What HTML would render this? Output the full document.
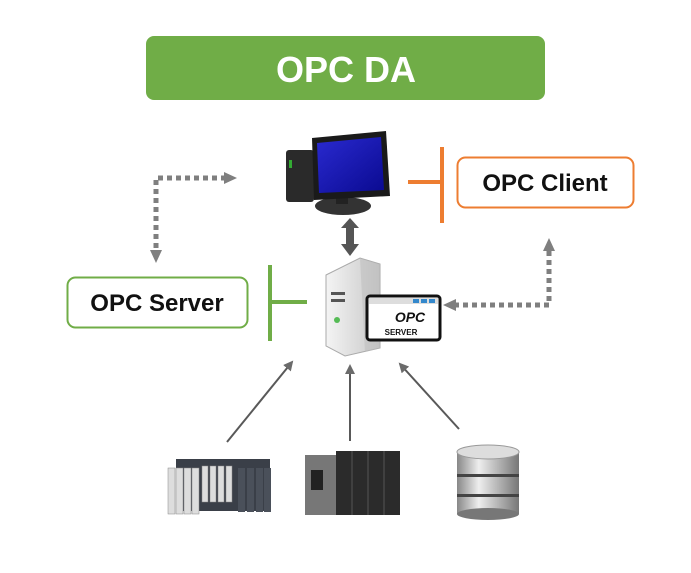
<!DOCTYPE html>
<html><head><meta charset="utf-8"><style>
html,body{margin:0;padding:0;background:#fff;width:691px;height:573px;overflow:hidden}
svg{display:block}
text{font-family:"Liberation Sans",sans-serif;font-weight:bold}
</style></head><body>
<svg width="691" height="573" viewBox="0 0 691 573" xmlns="http://www.w3.org/2000/svg">
<defs>
<linearGradient id="scr" x1="0" y1="0" x2="1" y2="1"><stop offset="0" stop-color="#2a2ad0"/><stop offset="1" stop-color="#0a0a90"/></linearGradient>
<linearGradient id="srv" x1="0" y1="0" x2="1" y2="0"><stop offset="0" stop-color="#f4f4f4"/><stop offset="1" stop-color="#c8c8c8"/></linearGradient>
<linearGradient id="db" x1="0" y1="0" x2="1" y2="0"><stop offset="0" stop-color="#888"/><stop offset="0.35" stop-color="#eee"/><stop offset="1" stop-color="#777"/></linearGradient>
<marker id="ah" markerWidth="10" markerHeight="10" refX="8" refY="5" orient="auto" markerUnits="userSpaceOnUse"><path d="M0,0 L10,5 L0,10 z" fill="#6b6b6b"/></marker>
</defs>
<rect x="146" y="36" width="399" height="64" rx="8" fill="#70ad47"/>
<text x="346" y="82" font-size="36" fill="#fff" text-anchor="middle">OPC DA</text>
<rect x="286" y="150" width="28" height="52" rx="3" fill="#2a2a2a"/>
<rect x="289" y="160" width="3" height="8" fill="#3a3"/>
<ellipse cx="343" cy="206" rx="28" ry="9" fill="#333"/>
<rect x="336" y="190" width="12" height="14" fill="#222"/>
<path d="M312,138 L386,131 L390,196 L314,200 z" fill="#1a1a1a"/>
<path d="M317,143 L381,137 L384,190 L319,193 z" fill="url(#scr)"/>
<line x1="408" y1="182" x2="442" y2="182" stroke="#ed7d31" stroke-width="4"/>
<line x1="442" y1="147" x2="442" y2="223" stroke="#ed7d31" stroke-width="4"/>
<rect x="457.5" y="157.5" width="176" height="50" rx="8" fill="#fff" stroke="#ed7d31" stroke-width="2"/>
<text x="545" y="191" font-size="24" fill="#111" text-anchor="middle">OPC Client</text>
<path d="M350,218 L359,228 L354,228 L354,244 L359,244 L350,256 L341,244 L346,244 L346,228 L341,228 z" fill="#555"/>
<path d="M326,275 L360,258 L380,264 L380,348 L345,356 L326,346 z" fill="url(#srv)" stroke="#aaa"/>
<path d="M360,258 L380,264 L380,348 L365,352 z" fill="#bbb" opacity="0.5"/>
<rect x="331" y="292" width="14" height="3" fill="#555"/>
<rect x="331" y="299" width="14" height="3" fill="#555"/>
<circle cx="337" cy="320" r="3" fill="#5b5"/>
<rect x="367" y="296" width="73" height="44" rx="3" fill="#fff" stroke="#111" stroke-width="3"/>
<rect x="369" y="298" width="69" height="6" fill="#ddd"/>
<rect x="413" y="299" width="6" height="4" fill="#38c"/><rect x="421" y="299" width="6" height="4" fill="#38c"/><rect x="429" y="299" width="6" height="4" fill="#38c"/>
<text x="410" y="322" font-size="14" fill="#111" text-anchor="middle" font-style="italic">OPC</text>
<text x="401" y="335" font-size="8" fill="#111" text-anchor="middle">SERVER</text>
<line x1="270" y1="265" x2="270" y2="341" stroke="#70ad47" stroke-width="4"/>
<line x1="270" y1="302" x2="307" y2="302" stroke="#70ad47" stroke-width="4"/>
<rect x="67.5" y="277.5" width="180" height="50" rx="8" fill="#fff" stroke="#70ad47" stroke-width="2"/>
<text x="157" y="311" font-size="24" fill="#111" text-anchor="middle">OPC Server</text>
<polyline points="226,178 156,178 156,252" fill="none" stroke="#7f7f7f" stroke-width="5" stroke-dasharray="5,4"/>
<path d="M224,172 L237,178 L224,184 z" fill="#7f7f7f"/>
<path d="M150,250 L156,263 L162,250 z" fill="#7f7f7f"/>
<polyline points="454,305 549,305 549,250" fill="none" stroke="#7f7f7f" stroke-width="5" stroke-dasharray="5,4"/>
<path d="M456,299 L443,305 L456,311 z" fill="#7f7f7f"/>
<path d="M543,251 L549,238 L555,251 z" fill="#7f7f7f"/>
<line x1="227" y1="442" x2="292" y2="362" stroke="#595959" stroke-width="2" marker-end="url(#ah)"/>
<line x1="350" y1="441" x2="350" y2="366" stroke="#595959" stroke-width="2" marker-end="url(#ah)"/>
<line x1="459" y1="429" x2="400" y2="364" stroke="#595959" stroke-width="2" marker-end="url(#ah)"/>
<rect x="176" y="459" width="94" height="52" fill="#3a3f48"/>
<g fill="#ddd" stroke="#888" stroke-width="0.5">
<rect x="168" y="468" width="7" height="46"/><rect x="176" y="468" width="7" height="46"/><rect x="184" y="468" width="7" height="46"/><rect x="192" y="468" width="7" height="46"/>
<rect x="202" y="466" width="6" height="36"/><rect x="210" y="466" width="6" height="36"/><rect x="218" y="466" width="6" height="36"/><rect x="226" y="466" width="6" height="36"/>
</g>
<g fill="#4a505a"><rect x="238" y="468" width="7" height="44"/><rect x="247" y="468" width="7" height="44"/><rect x="256" y="468" width="7" height="44"/><rect x="264" y="468" width="7" height="44"/></g>
<rect x="305" y="455" width="34" height="60" fill="#777"/>
<rect x="311" y="470" width="12" height="20" fill="#222"/>
<rect x="336" y="451" width="64" height="64" fill="#2b2b2b"/>
<g stroke="#555" stroke-width="1"><line x1="352" y1="451" x2="352" y2="515"/><line x1="368" y1="451" x2="368" y2="515"/><line x1="384" y1="451" x2="384" y2="515"/></g>
<rect x="457" y="452" width="62" height="62" fill="url(#db)"/>
<ellipse cx="488" cy="514" rx="31" ry="6" fill="#777"/>
<ellipse cx="488" cy="452" rx="31" ry="7" fill="#ddd" stroke="#999"/>
<rect x="457" y="474" width="62" height="3" fill="#444"/>
<rect x="457" y="494" width="62" height="3" fill="#444"/>
</svg>
</body></html>
